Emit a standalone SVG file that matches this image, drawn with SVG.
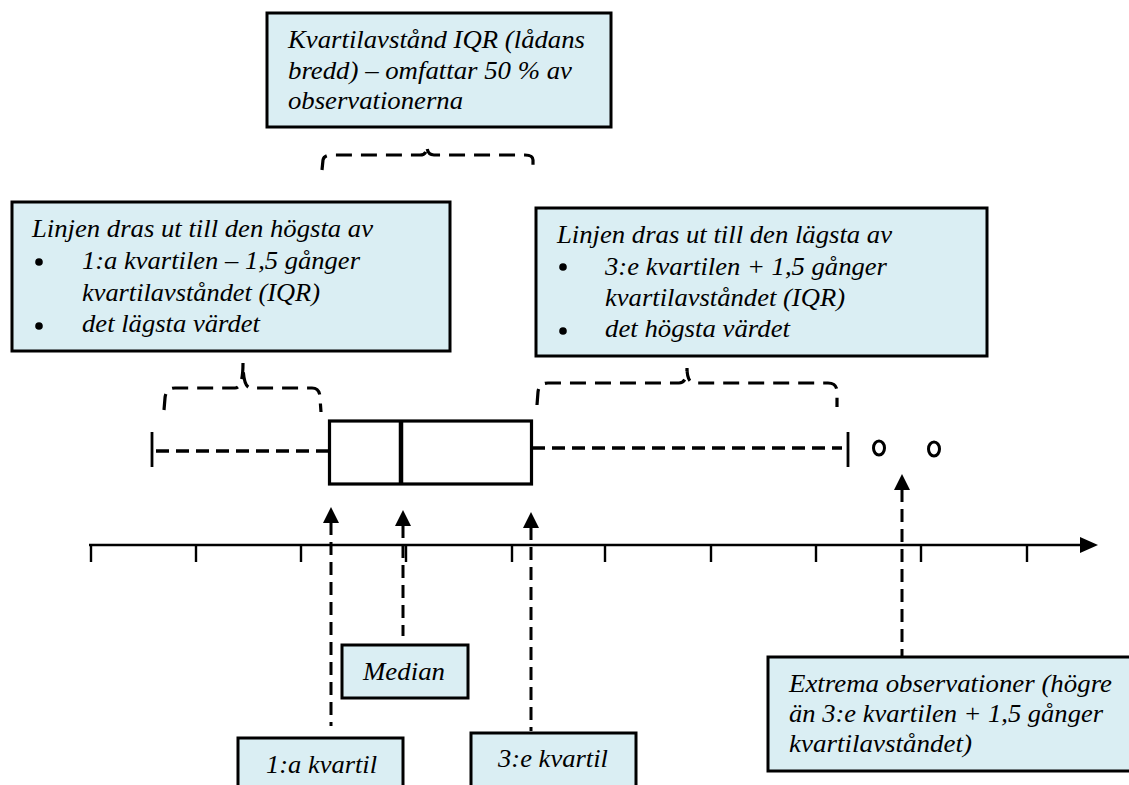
<svg xmlns="http://www.w3.org/2000/svg" width="1129" height="785" viewBox="0 0 1129 785">
<style>
.box{fill:#DAEEF3;stroke:#000;stroke-width:3}
.t{font-family:"Liberation Serif","Times New Roman",serif;font-style:italic;font-size:25px;fill:#000}
.brace{fill:none;stroke:#000;stroke-width:3.2;stroke-dasharray:16 9}
.whisk{fill:none;stroke:#000;stroke-width:3.5;stroke-dasharray:13 7}
.vd{fill:none;stroke:#000;stroke-width:3;stroke-dasharray:13 7}
.solid{fill:none;stroke:#000}
.head{fill:#000}
</style>

<g id="node-iqr">
<rect class="box" x="267" y="13" width="344" height="114"/>
<text class="t" x="288" y="48" textLength="297" lengthAdjust="spacingAndGlyphs">Kvartilavstånd IQR (lådans</text>
<text class="t" x="288" y="79" textLength="284" lengthAdjust="spacingAndGlyphs">bredd) – omfattar 50 % av</text>
<text class="t" x="288" y="109" textLength="175" lengthAdjust="spacingAndGlyphs">observationerna</text>
</g>

<g id="node-left">
<rect class="box" x="12" y="202" width="438" height="149"/>
<text class="t" x="32" y="237" textLength="341" lengthAdjust="spacingAndGlyphs">Linjen dras ut till den högsta av</text>
<circle cx="39" cy="262" r="3.8"/>
<text class="t" x="82" y="269" textLength="278" lengthAdjust="spacingAndGlyphs">1:a kvartilen – 1,5 gånger</text>
<text class="t" x="82" y="301" textLength="238" lengthAdjust="spacingAndGlyphs">kvartilavståndet (IQR)</text>
<circle cx="39" cy="326" r="3.8"/>
<text class="t" x="82" y="332" textLength="178" lengthAdjust="spacingAndGlyphs">det lägsta värdet</text>
</g>

<g id="node-right">
<rect class="box" x="536" y="208" width="451" height="148"/>
<text class="t" x="557" y="243" textLength="335" lengthAdjust="spacingAndGlyphs">Linjen dras ut till den lägsta av</text>
<circle cx="563" cy="267" r="3.8"/>
<text class="t" x="605" y="275" textLength="282" lengthAdjust="spacingAndGlyphs">3:e kvartilen + 1,5 gånger</text>
<text class="t" x="605" y="306" textLength="240" lengthAdjust="spacingAndGlyphs">kvartilavståndet (IQR)</text>
<circle cx="563" cy="331" r="3.8"/>
<text class="t" x="605" y="337" textLength="185" lengthAdjust="spacingAndGlyphs">det högsta värdet</text>
</g>

<g id="node-median">
<rect class="box" x="342" y="645" width="126" height="53"/>
<text class="t" x="363" y="680" textLength="82" lengthAdjust="spacingAndGlyphs">Median</text>
</g>

<g id="node-q1">
<rect class="box" x="238" y="738" width="165" height="60"/>
<text class="t" x="266" y="773" textLength="111" lengthAdjust="spacingAndGlyphs">1:a kvartil</text>
</g>

<g id="node-q3">
<rect class="box" x="471" y="733" width="165" height="60"/>
<text class="t" x="498" y="767" textLength="110" lengthAdjust="spacingAndGlyphs">3:e kvartil</text>
</g>

<g id="node-extreme">
<rect class="box" x="768" y="657" width="370" height="114"/>
<text class="t" x="789" y="692" textLength="323" lengthAdjust="spacingAndGlyphs">Extrema observationer (högre</text>
<text class="t" x="789" y="722" textLength="314" lengthAdjust="spacingAndGlyphs">än 3:e kvartilen + 1,5 gånger</text>
<text class="t" x="789" y="752" textLength="183" lengthAdjust="spacingAndGlyphs">kvartilavståndet)</text>
</g>

<g id="boxplot">
<line class="whisk" x1="156" y1="451" x2="329" y2="451"/>
<line class="solid" stroke-width="2.8" x1="152" y1="432" x2="152" y2="467"/>
<line class="whisk" x1="532" y1="448" x2="842" y2="448"/>
<line class="solid" stroke-width="2.8" x1="848" y1="432" x2="848" y2="467"/>
<rect x="329.5" y="421" width="202" height="63" fill="#fff" stroke="#000" stroke-width="3.2"/>
<line class="solid" stroke-width="4.5" x1="401" y1="421" x2="401" y2="484"/>
<ellipse cx="879" cy="448" rx="5.5" ry="7" fill="none" stroke="#000" stroke-width="3"/>
<ellipse cx="934" cy="449" rx="5.5" ry="7" fill="none" stroke="#000" stroke-width="3"/>
</g>

<g id="axis">
<line class="solid" stroke-width="2.6" x1="89" y1="545" x2="1082" y2="545"/>
<path class="head" d="M1080,537 L1098,545 L1080,553 Z"/>
<g class="solid" stroke-width="2.4">
<line x1="91" y1="545" x2="91" y2="562"/>
<line x1="196" y1="545" x2="196" y2="562"/>
<line x1="301" y1="545" x2="301" y2="562"/>
<line x1="406" y1="545" x2="406" y2="562"/>
<line x1="512" y1="545" x2="512" y2="562"/>
<line x1="605" y1="545" x2="605" y2="562"/>
<line x1="711" y1="545" x2="711" y2="562"/>
<line x1="816" y1="545" x2="816" y2="562"/>
<line x1="921" y1="545" x2="921" y2="562"/>
<line x1="1027" y1="545" x2="1027" y2="562"/>
</g>
</g>

<g id="connectors">
<path class="brace" d="M322,170 L323,160 Q324,155 332,155 L420,155 Q427,155 427,146 Q427,155 434,155 L525,155 Q533,155 533,160 L533,170"/>
<path class="brace" d="M164,410 L165,398 Q166,388 175,388 L235,388 Q243,388 243,363 Q243,388 251,388 L312,388 Q320,388 320,398 L321,412"/>
<path class="brace" d="M537,405 L538,392 Q539,383 548,383 L679,383 Q687,383 687,368 Q687,383 695,383 L828,383 Q837,383 837,392 L837,407"/>
<line class="vd" x1="331" y1="522" x2="331" y2="726"/>
<path class="head" d="M331,507 L339,523 L323,523 Z"/>
<line class="vd" x1="403" y1="525" x2="403" y2="636"/>
<path class="head" d="M403,510 L411,526 L395,526 Z"/>
<line class="vd" x1="531" y1="527" x2="531" y2="731"/>
<path class="head" d="M531,512 L539,528 L523,528 Z"/>
<line class="vd" x1="902" y1="489" x2="902" y2="657"/>
<path class="head" d="M902,474 L910,490 L894,490 Z"/>
</g>
</svg>
